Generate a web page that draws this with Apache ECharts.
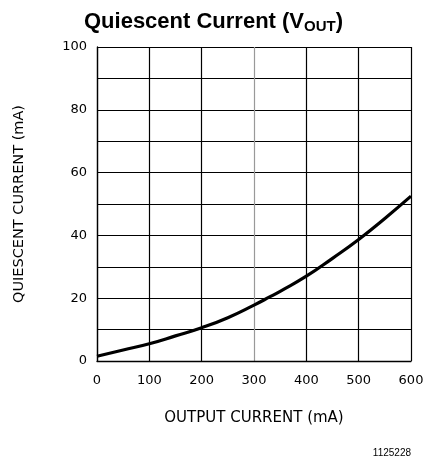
<!DOCTYPE html>
<html><head><meta charset="utf-8">
<script src="https://cdn.jsdelivr.net/npm/echarts@6/dist/echarts.min.js"></script>
<style>html,body{margin:0;padding:0;background:#fff}#c{width:427px;height:466px}</style>
</head><body><div id="c"></div>
<script>
const outputCurrent = [0, 50, 100, 150, 200, 250, 300, 330, 350, 400, 450, 500, 550, 600];
const quiescentCurrent = [1.5, 3.5, 5.5, 8.0, 10.6, 13.8, 17.8, 20.4, 22.2, 27.0, 32.7, 38.7, 45.4, 52.5];
const xTicks = [0, 100, 200, 300, 400, 500, 600];
const yTicks = [0, 20, 40, 60, 80, 100];

const chart = echarts.init(document.getElementById('c'));
const font = '"DejaVu Sans", sans-serif';
chart.setOption({
  animation: false,
  backgroundColor: '#fff',
  title: [{
    text: '{t|Quiescent Current (V}{s|OUT}{t|)}',
    left: 'center', top: 4,
    textStyle: { rich: {
      t: { fontFamily: 'Liberation Sans, Arial, sans-serif', fontWeight: 'bold', fontSize: 22, color: '#000' },
      s: { fontFamily: 'Liberation Sans, Arial, sans-serif', fontWeight: 'bold', fontSize: 15, color: '#000', padding: [10, 0, 0, 0] }
    } }
  }, {
    text: '1125228', right: 11, top: 443,
    textStyle: { fontFamily: 'Liberation Sans, Arial, sans-serif', fontWeight: 'normal', fontSize: 10, color: '#000' }
  }],
  grid: { left: 97, right: 16, top: 47, bottom: 105 },
  xAxis: {
    type: 'value', min: 0, max: 600, interval: 100,
    name: 'OUTPUT CURRENT (mA)', nameLocation: 'middle', nameGap: 50,
    nameTextStyle: { fontFamily: font, fontSize: 15, color: '#000' },
    axisLine: { show: true, lineStyle: { color: '#000', width: 1.3 } },
    axisTick: { show: false },
    axisLabel: { margin: 13, fontFamily: font, fontSize: 13, color: '#000',
      formatter: v => xTicks.includes(v) ? String(v) : '' },
    splitLine: { show: true, lineStyle: { color: ['#000', '#000', '#000', '#999', '#000', '#000', '#000'], width: 1.2 } }
  },
  yAxis: {
    type: 'value', min: 0, max: 100, interval: 10,
    name: 'QUIESCENT CURRENT (mA)', nameLocation: 'middle', nameGap: 70,
    nameTextStyle: { fontFamily: font, fontSize: 14.5, color: '#000' },
    axisLine: { show: true, lineStyle: { color: '#000', width: 1.3 } },
    axisTick: { show: false },
    axisLabel: { margin: 10, fontFamily: font, fontSize: 13, color: '#000',
      formatter: v => yTicks.includes(v) ? String(v) : '' },
    splitLine: { show: true, lineStyle: { color: '#000', width: 1.2 } }
  },
  series: [{
    type: 'line', smooth: true, showSymbol: false,
    data: outputCurrent.map((x, i) => [x, quiescentCurrent[i]]),
    lineStyle: { color: '#000', width: 3.2 }
  }]
});
</script></body></html>
